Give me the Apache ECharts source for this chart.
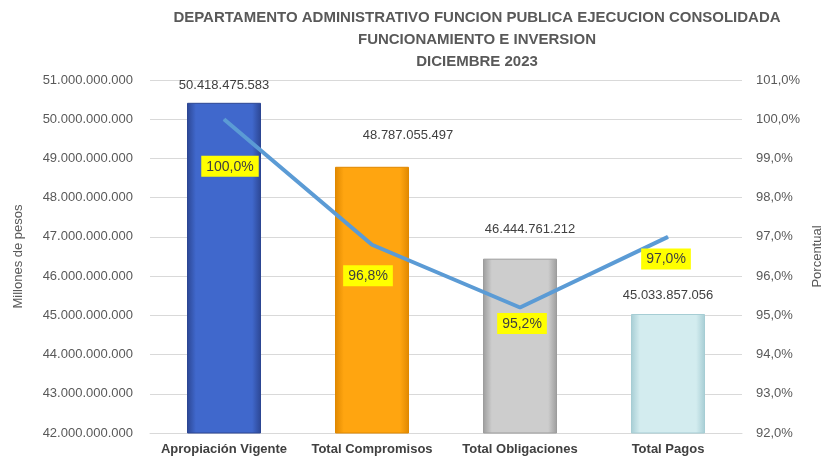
<!DOCTYPE html>
<html>
<head>
<meta charset="utf-8">
<script src="https://cdn.jsdelivr.net/npm/echarts@6/dist/echarts.min.js"></script>
<style>
  html, body { margin: 0; padding: 0; background: #fff; }
  #chart { width: 822px; height: 458px; }
</style>
</head>
<body>
<div id="chart"></div>
<script>
const categories = ['Apropiación Vigente', 'Total Compromisos', 'Total Obligaciones', 'Total Pagos']
const montos = [50418475583, 48787055497, 46444761212, 45033857056]
const porcentajes = [100.0, 96.8, 95.2, 97.0]

const barColors = [
  ['#2c4693', '#4068cc', '#2c4693'],
  ['#e08800', '#ffa510', '#e08800'],
  ['#9c9c9c', '#cdcdcd', '#9c9c9c'],
  ['#a6cdd4', '#d3ecef', '#a6cdd4']
]
// manual label placement like the original sheet
const barLabelOffsets = [[0, -11], [36, -25], [10, -23], [0, -12]]
const lineLabelShift = [[6, 36], [-4, 20], [2, 5], [-2, 11]]

const fmtMiles = v => Math.round(v).toString().replace(/\B(?=(\d{3})+(?!\d))/g, '.')
const fmtPct = v => v.toFixed(1).replace('.', ',') + '%'

const font = 'Liberation Sans'

const chart = echarts.init(document.getElementById('chart'))
chart.setOption({
  backgroundColor: '#fff',
  textStyle: { fontFamily: font },
  title: {
    text: 'DEPARTAMENTO ADMINISTRATIVO FUNCION PUBLICA EJECUCION CONSOLIDADA\nFUNCIONAMIENTO E INVERSION\nDICIEMBRE 2023',
    left: 472,
    top: 2,
    textAlign: 'center',
    textStyle: { color: '#595959', fontSize: 15, fontWeight: 'bold', lineHeight: 22, fontFamily: font }
  },
  grid: { left: 150, right: 80, top: 80, bottom: 25, outerBoundsMode: 'none', containLabel: false },
  xAxis: {
    type: 'category',
    data: categories,
    axisLine: { lineStyle: { color: '#d9d9d9' } },
    axisTick: { show: false },
    axisLabel: { color: '#404040', fontSize: 13, fontWeight: 'bold', margin: 10, interval: 0, fontFamily: font }
  },
  yAxis: [{
    type: 'value',
    min: 42000000000,
    max: 51000000000,
    interval: 1000000000,
    name: 'Millones de pesos',
    nameLocation: 'middle',
    nameGap: 125,
    nameTextStyle: { color: '#595959', fontSize: 13 },
    axisLine: { show: false },
    axisTick: { show: false },
    axisLabel: { color: '#595959', fontSize: 13, margin: 17, formatter: fmtMiles },
    splitLine: { lineStyle: { color: '#d9d9d9' } }
  }, {
    type: 'value',
    min: 92,
    max: 101,
    interval: 1,
    name: 'Porcentual',
    nameLocation: 'middle',
    nameGap: 56,
    nameRotate: 90,
    nameTextStyle: { color: '#595959', fontSize: 13 },
    axisLine: { show: false },
    axisTick: { show: false },
    axisLabel: { color: '#595959', fontSize: 13, margin: 14, formatter: fmtPct },
    splitLine: { show: false }
  }],
  series: [{
    type: 'bar',
    barWidth: '50%',
    data: montos.map((v, i) => ({
      value: v,
      itemStyle: {
        color: new echarts.graphic.LinearGradient(0, 0, 1, 0, [
          { offset: 0, color: barColors[i][0] },
          { offset: 0.12, color: barColors[i][1] },
          { offset: 0.88, color: barColors[i][1] },
          { offset: 1, color: barColors[i][2] }
        ]),
        borderColor: barColors[i][0],
        borderWidth: 1
      },
      label: { offset: barLabelOffsets[i] }
    })),
    label: {
      show: true,
      position: 'top',
      distance: 0,
      color: '#404040',
      fontSize: 13,
      formatter: p => fmtMiles(p.value)
    }
  }, {
    type: 'line',
    yAxisIndex: 1,
    data: porcentajes,
    symbol: 'circle',
    symbolSize: 1,
    showSymbol: true,
    lineStyle: { color: '#5b9bd5', width: 4 },
    itemStyle: { color: '#5b9bd5' },
    label: {
      show: true,
      position: 'bottom',
      distance: 0,
      backgroundColor: '#ffff00',
      padding: [4, 5, 3, 5],
      color: '#404040',
      fontSize: 14,
      formatter: p => fmtPct(p.value)
    },
    labelLayout: p => ({
      dx: lineLabelShift[p.dataIndex][0],
      dy: lineLabelShift[p.dataIndex][1],
      hideOverlap: false
    }),
    z: 5
  }]
})
</script>
</body>
</html>
